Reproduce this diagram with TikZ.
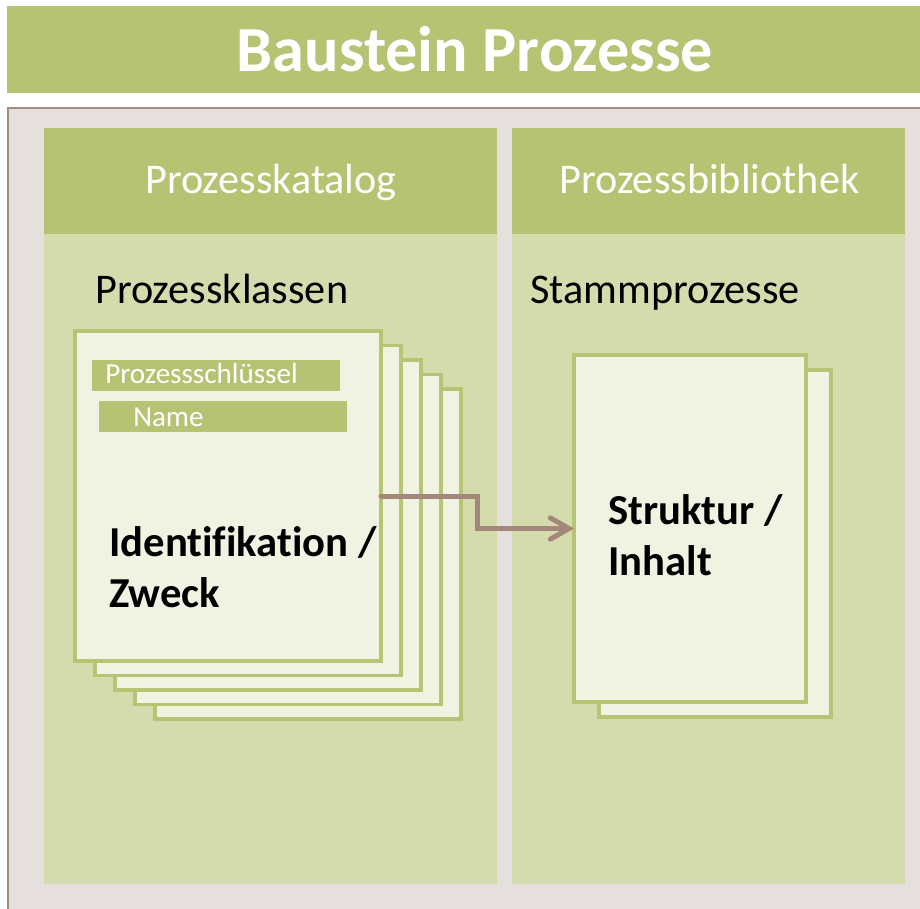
\documentclass[tikz,border=0pt]{standalone}
\usepackage{fontspec}
\setmainfont{Carlito}[Ligatures=CommonOff]
\usetikzlibrary{arrows.meta}
\definecolor{titlegreen}{HTML}{B5C373}
\definecolor{panelbody}{HTML}{D4DBAD}
\definecolor{outergrey}{HTML}{E5E0DD}
\definecolor{brownline}{HTML}{A38B7E}
\definecolor{sheetfill}{HTML}{F0F2E2}
\definecolor{sheetline}{HTML}{B6C474}
\definecolor{arrowbrown}{HTML}{A3887A}
\begin{document}
\begin{tikzpicture}[x=0.75pt,y=-0.75pt,
  sheetbox/.style={draw=sheetline, fill=sheetfill, line width=2.8pt, inner sep=0pt, outer sep=0pt, anchor=north west},
  leftsheet/.style={sheetbox, minimum width=229.5pt, minimum height=247.5pt},
  rightsheet/.style={sheetbox, minimum width=174pt, minimum height=260.25pt},
  barbox/.style={fill=titlegreen, inner sep=0pt, outer sep=0pt, anchor=north west, minimum width=186pt, minimum height=23.25pt},
  headtext/.style={text=white, font=\fontsize{31.7}{37}\selectfont, anchor=base, inner sep=0pt},
  subtext/.style={text=black, font=\fontsize{31.7}{37}\selectfont, anchor=base west, inner sep=0pt},
  bartext/.style={text=white, font=\fontsize{21.8}{26}\selectfont, anchor=base west, inner sep=0pt},
  boldtext/.style={text=black, font=\fontsize{32}{38}\selectfont\bfseries, anchor=base west, inner sep=0pt},
  conn/.style={draw=arrowbrown, line width=3.75pt, line cap=round, line join=miter, -{Straight Barb[length=14pt, width=16pt, line cap=round]}}
]
\useasboundingbox (0,0) rectangle (920,908);
\begin{scope}
\clip (0,0) rectangle (920,908);
\fill[white] (0,0) rectangle (920,908);
% title bar
\fill[titlegreen] (7,6) rectangle (930,93);
\node[text=white, font=\fontsize{48.2}{56}\selectfont\bfseries, anchor=base, inner sep=0pt] (title) at (475,71) {Baustein Prozesse};
% outer box
\draw[fill=outergrey, draw=brownline, line width=1.9pt] (8,108) rectangle (960,960);
% panels
\fill[panelbody] (44,128) rectangle (497,884);
\fill[titlegreen] (44,128) rectangle (497,234);
\fill[panelbody] (512,128) rectangle (905,884);
\fill[titlegreen] (512,128) rectangle (905,234);
\node[headtext] (katalog) at (271,193) {Prozesskatalog};
\node[headtext] (bibliothek) at (709.5,193) {Prozessbibliothek};
\node[subtext] (klassen) at (95,303) {Prozessklassen};
\node[subtext] (stamm) at (530,303) {Stammprozesse};
% left sheet stack
\foreach \i in {4,3,2,1} {
  \node[leftsheet] (ls\i) at ({75+20*\i},{331+14.5*\i}) {};
}
\node[leftsheet] (lf) at (75,331) {};
\node[barbox] (keybar) at (92,360) {};
\node[bartext] (keytext) at (105,383) {Prozessschlüssel};
\node[barbox] (namebar) at (99,401) {};
\node[bartext] (nametext) at (133,426) {Name};
\node[boldtext] (ident) at (109,556) {Identifikation /};
\node[boldtext] (zweck) at (109,607) {Zweck};
% right sheet stack
\node[rightsheet] (rb) at (599,370) {};
\node[rightsheet] (rf) at (574,355) {};
\node[boldtext] (struktur) at (608,524) {Struktur /};
\node[boldtext] (inhalt) at (608,575) {Inhalt};
% connector
\coordinate (turn) at (477,0);
\draw[conn] (lf.east) -- (lf.east -| turn) |- (rf.west);
\end{scope}
\end{tikzpicture}
\end{document}
